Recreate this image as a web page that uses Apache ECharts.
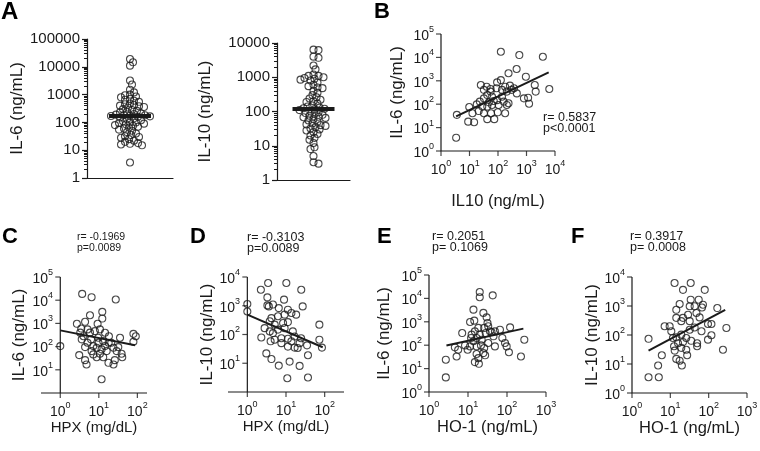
<!DOCTYPE html>
<html>
<head>
<meta charset="utf-8">
<script src="https://cdn.jsdelivr.net/npm/echarts@6/dist/echarts.min.js"></script>
<style>
  html, body { margin: 0; padding: 0; background: #fff; }
  #main { width: 760px; height: 451px; }
</style>
</head>
<body>
<div id="main"></div>
<script>
  // A: single-group distributions (ng/mL)
  const il6Dist = [19000, 14500, 11000, 3200, 2300, 1500, 1200, 1000, 950, 850, 800, 700, 650, 600, 550, 480, 450, 420, 400, 380, 360, 340, 300, 280, 260, 240, 230, 210, 200, 190, 185, 180, 175, 170, 165, 160, 150, 140, 130, 120, 110, 100, 100, 95, 90, 85, 80, 75, 70, 65, 60, 55, 50, 45, 40, 35, 32, 30, 28, 25, 22, 20, 18, 17, 16, 15, 3.6]
  const il10Dist = [6400, 6200, 4000, 3700, 2200, 1700, 1200, 1100, 1100, 1000, 950, 900, 850, 800, 700, 600, 550, 500, 480, 400, 350, 300, 260, 240, 220, 200, 190, 170, 150, 140, 130, 125, 120, 115, 110, 100, 95, 90, 85, 80, 75, 70, 68, 65, 60, 55, 50, 45, 42, 40, 38, 35, 32, 30, 28, 25, 22, 20, 17, 15, 12, 9, 8, 5, 3.3, 3.0]

  // B: IL10 vs IL-6
  const bIl10 = [126, 560, 3750, 6300, 3.4, 9, 14.5, 450, 234, 950, 1950, 2100, 1140, 810, 1230, 3.6, 9.8, 18, 12.7, 21, 25, 32, 40, 93, 126, 89, 138, 263, 363, 457, 204, 55, 42, 32, 62, 93, 138, 204, 234, 158, 105, 62, 42, 28, 32, 42, 74, 57, 98, 178, 48, 71, 23, 55, 178, 302]
  const bIl6 = [17400, 12600, 10700, 445, 3.7, 18, 17, 3200, 2100, 1500, 660, 345, 190, 178, 105, 35, 76, 98, 41, 51, 660, 410, 560, 860, 1070, 480, 410, 620, 480, 290, 345, 345, 246, 178, 208, 149, 208, 93, 110, 129, 93, 93, 79, 79, 41, 23, 23, 41, 45, 41, 120, 138, 129, 447, 560, 410]
  const bFit = [[3.4, 30], [6000, 2300]]
  const bStats = ['r= 0.5837', 'p<0.0001']

  // C: HPX vs IL-6
  const cHpx = [1.0, 3.7, 6.5, 27.5, 5.9, 12.3, 12.3, 2.7, 4.4, 9.3, 3.5, 5.1, 7.9, 10.7, 14.5, 18.3, 4.0, 6.3, 9.7, 13, 21, 3.6, 4.4, 7.2, 8.8, 11.8, 16, 24, 35.5, 32, 39, 40.5, 26, 24, 17.8, 13, 10.7, 8.8, 7.2, 3.1, 4.4, 4.8, 11.8, 79, 91, 79, 3.3, 5.9, 18, 29, 9.8, 6.5, 14.5, 5.1]
  const cIl6 = [105, 18700, 13500, 10700, 2250, 3150, 1620, 960, 1170, 960, 600, 550, 465, 550, 395, 280, 280, 205, 240, 172, 147, 205, 95, 105, 89, 76, 64, 89, 240, 95, 49, 35, 26, 17, 20, 35, 49, 35, 46, 43, 26, 17, 3.9, 162, 280, 355, 400, 400, 147, 64, 147, 64, 105, 147]
  const cFit = [[1, 500], [87, 115]]
  const cStats = ['r= -0.1969', 'p=0.0089']

  // D: HPX vs IL-10
  const dHpx = [1, 1, 3.45, 10.2, 2.24, 24.8, 3.3, 3.3, 3.6, 8.9, 4.6, 6.5, 11.2, 13.8, 27, 18.3, 9.2, 6.2, 4.2, 3.8, 5.1, 8.4, 11.2, 2.8, 3.8, 6.2, 9.2, 15, 16.7, 11.2, 7.6, 5.1, 4.0, 2.3, 11.2, 16.7, 20, 22.5, 35, 37, 3.1, 4.2, 6.5, 12.4, 22.5, 10.8, 37, 73, 73, 85, 7.6, 13.8, 24.6, 4.6]
  const dIl10 = [1150, 630, 6200, 6200, 3600, 3600, 1950, 1030, 950, 1630, 1100, 830, 730, 560, 950, 490, 490, 430, 370, 290, 220, 250, 270, 166, 128, 148, 166, 128, 85, 71, 74, 66, 58, 79, 38, 35, 34, 50, 42, 19, 22, 14, 8.3, 11.4, 8.1, 3.0, 3.2, 220, 66, 35, 50, 58, 74, 112]
  const dFit = [[1, 490], [89, 36]]
  const dStats = ['r= -0.3103', 'p=0.0089']

  // E: HO-1 vs IL-6
  const eHo1 = [2.7, 2.7, 5.1, 5.6, 7.1, 4.6, 8.4, 11.3, 12.4, 11.3, 14.5, 13.8, 20, 20, 43, 24.8, 30, 31.6, 26, 18.4, 15, 20, 28.5, 36.5, 49, 66, 120, 45, 76, 89, 98, 112, 278, 228, 49, 33, 22.4, 16.6, 13.8, 16.6, 21.5, 26, 24.8, 16.6, 18.4, 15, 19, 27.5, 9.8, 33, 40, 12]
  const eIl6 = [4.2, 24, 33, 64, 330, 81, 98, 89, 283, 980, 1120, 3300, 18700, 11200, 13500, 2400, 1550, 890, 550, 550, 390, 283, 330, 390, 390, 460, 580, 240, 204, 124, 89, 50, 172, 33, 89, 124, 172, 204, 147, 89, 98, 76, 46, 42, 28, 19, 16, 37, 64, 650, 365, 204]
  const eFit = [[2.8, 98], [263, 510]]
  const eStats = ['r= 0.2051', 'p= 0.1069']

  // F: HO-1 vs IL-10
  const fHo1 = [2.7, 5.0, 4.8, 6.0, 2.7, 7.1, 9.6, 12.9, 34, 21.4, 79, 34, 55, 17.5, 32, 43, 71, 67, 168, 48, 29, 14.3, 14.3, 21.4, 32, 19.3, 65, 118, 96, 290, 118, 96, 236, 50, 50, 35, 26, 19.3, 14.3, 11.7, 12.5, 15.9, 21.4, 19.3, 26, 13, 14.3, 17.5, 20, 27.5, 10.6, 32, 43, 58]
  const fIl10 = [3.5, 3.5, 8.9, 20, 74, 200, 200, 6200, 6200, 3600, 3600, 1650, 1650, 1170, 980, 980, 1110, 890, 850, 575, 500, 740, 390, 390, 300, 300, 135, 240, 240, 175, 98, 69, 31, 41, 52, 63, 79, 103, 83, 79, 41, 52, 57, 36, 31, 29, 15, 13, 8.9, 20, 135, 152, 182, 405]
  const fFit = [[2.7, 29], [270, 740]]
  const fStats = ['r= 0.3917', 'p= 0.0008']

  const FONT = '"Liberation Sans", Arial, sans-serif'
  const INK = '#1a1a1a'
  const lg = Math.log10

  const pts = (xs, ys) => xs.map((x, i) => [lg(x), lg(ys[i])])
  const range = (a, b) => Array.from({ length: b - a + 1 }, (_, i) => a + i)

  const median = (arr) => {
    const s = arr.slice().sort((a, b) => a - b)
    const m = s.length >> 1
    return s.length % 2 ? s[m] : (s[m - 1] + s[m]) / 2
  }

  // simple beeswarm: x offsets in pixels, y in log units
  function swarm(vals, pxPerUnit, d) {
    const order = vals.map((v, i) => i).sort((a, b) => vals[b] - vals[a])
    const placed = []
    const out = []
    order.forEach((i) => {
      const y = lg(vals[i]) * pxPerUnit
      let x = 0
      for (let k = 0; k < 200; k++) {
        const c = (k % 2 ? 1 : -1) * Math.ceil(k / 2)
        if (placed.every((p) => (p[0] - c) ** 2 + (p[1] - y) ** 2 >= d * d)) {
          x = c
          break
        }
      }
      placed.push([x, y])
      out.push([x, lg(vals[i])])
    })
    return out
  }

  const lineStyle = { color: INK, width: 1.2 }
  const isInt = (v) => Math.abs(v - Math.round(v)) < 1e-6

  // 10^n labels on whole decades only; skip the ones listed in hide
  function powLabel(margin, hide) {
    const ok = (v) => isInt(v) && !(hide || []).includes(Math.round(v))
    return {
      margin,
      formatter: (v) => (ok(v) ? '{b|10}{s|' + Math.round(v) + '}' : ''),
      rich: {
        b: { fontSize: 14, lineHeight: 18, verticalAlign: 'bottom', color: INK, fontFamily: FONT },
        s: { fontSize: 9, lineHeight: 18, verticalAlign: 'top', color: INK, fontFamily: FONT },
      },
    }
  }

  // label/name axes; the frame (line + ticks) is drawn by addFrame below
  function yLog(grid, max, hide, name, gap, offset) {
    return {
      type: 'value', gridIndex: grid, position: 'left', min: 0, max, interval: 1, offset: offset || 0,
      axisLine: { show: false, onZero: false },
      axisTick: { show: false },
      axisLabel: powLabel(7, hide),
      splitLine: { show: false },
      name, nameLocation: 'middle', nameGap: gap, nameRotate: 90,
      nameTextStyle: { fontSize: 17, color: INK, fontFamily: FONT },
    }
  }

  function xLog(grid, min, max, name, gap, nameSize) {
    return {
      type: 'value', gridIndex: grid, position: 'bottom', min, max, interval: min < 0 ? 0.5 : 1,
      axisLine: { show: false, onZero: false },
      axisTick: { show: false },
      axisLabel: powLabel(8),
      splitLine: { show: false },
      name, nameLocation: 'middle', nameGap: gap,
      nameTextStyle: { fontSize: nameSize, color: INK, fontFamily: FONT },
    }
  }

  function yDist(grid, max, name, gap) {
    return {
      type: 'value', gridIndex: grid, min: 0, max, interval: 1,
      axisLine: { show: true, onZero: false, lineStyle },
      axisTick: { show: true, length: 5, lineStyle },
      axisLabel: { margin: 7, fontSize: 15, color: INK, fontFamily: FONT, formatter: (v) => String(Math.round(Math.pow(10, v))) },
      splitLine: { show: false },
      name, nameLocation: 'middle', nameGap: gap, nameRotate: 90,
      nameTextStyle: { fontSize: 17, color: INK, fontFamily: FONT },
    }
  }

  function yMinor(grid, max) {
    const vals = []
    for (let n = 0; n < max; n++) for (let k = 2; k <= 9; k++) vals.push(n + lg(k))
    return {
      type: 'value', gridIndex: grid, min: 0, max, position: 'left',
      axisLine: { show: false, onZero: false },
      axisTick: { show: true, customValues: vals, length: 3, lineStyle: { color: INK, width: 1 } },
      axisLabel: { show: false },
      splitLine: { show: false },
    }
  }

  const xDist = (grid, half) => ({
    type: 'value', gridIndex: grid, min: -half, max: half,
    axisLine: { show: true, onZero: false, lineStyle },
    axisTick: { show: false }, axisLabel: { show: false }, splitLine: { show: false },
  })

  const grids = [
    { left: 87, top: 39, width: 86, height: 139 },
    { left: 277, top: 43, width: 73, height: 137 },
    { left: 441, top: 34, width: 114, height: 117 },
    { left: 41, top: 277, width: 106, height: 116 },
    { left: 228, top: 277, width: 116, height: 115 },
    { left: 429, top: 275, width: 117, height: 117 },
    { left: 632, top: 277, width: 115, height: 116 },
  ].map((g) => Object.assign({ outerBoundsMode: 'none', containLabel: false }, g))

  const xAxes = [
    xDist(0, 43),
    xDist(1, 36.5),
    xLog(2, 0, 4, 'IL10 (ng/mL)', 42, 16.5),
    xLog(3, -0.5, 2.25, 'HPX (mg/dL)', 24, 15),
    xLog(4, -0.5, 2.5, 'HPX (mg/dL)', 24, 15),
    xLog(5, 0, 3, 'HO-1 (ng/mL)', 15, 16.5),
    xLog(6, 0, 3, 'HO-1 (ng/mL)', 15, 16.5),
  ]

  // C and D: the y axis sits at 10^0 of x, inside the grid
  const yAxes = [
    yDist(0, 5, 'IL-6 (ng/mL)', 48),
    yDist(1, 4, 'IL-10 (ng/mL)', 63),
    yLog(2, 5, [], 'IL-6 (ng/mL)', 35),
    yLog(3, 5, [0], 'IL-6 (ng/mL)', 32, -19),
    yLog(4, 4, [0], 'IL-10 (ng/mL)', 31, -19),
    yLog(5, 5, [], 'IL-6 (ng/mL)', 36),
    yLog(6, 4, [], 'IL-10 (ng/mL)', 31),
    yMinor(0, 5),
    yMinor(1, 4),
  ]

  const dot = {
    type: 'scatter', symbol: 'circle', symbolSize: 7, silent: true,
    itemStyle: { color: 'rgba(255,255,255,0)', borderColor: INK, borderWidth: 1.1 },
  }
  const fitLine = { type: 'line', symbol: 'none', silent: true, lineStyle: { color: INK, width: 2 }, z: 3 }

  const series = []
  function addDist(grid, vals, pxPerUnit) {
    series.push(Object.assign({}, dot, { xAxisIndex: grid, yAxisIndex: grid, data: swarm(vals, pxPerUnit, 4.3) }))
    const m = lg(median(vals))
    series.push(Object.assign({}, fitLine, {
      xAxisIndex: grid, yAxisIndex: grid, lineStyle: { color: INK, width: 4 }, data: [[-21, m], [21, m]],
    }))
  }
  function addScatter(grid, xs, ys, fit) {
    series.push(Object.assign({}, dot, { xAxisIndex: grid, yAxisIndex: grid, data: pts(xs, ys) }))
    series.push(Object.assign({}, fitLine, { xAxisIndex: grid, yAxisIndex: grid, data: fit.map((p) => [lg(p[0]), lg(p[1])]) }))
  }
  // axis frame: y line at 10^0 of x, x line along 10^0 of y, outward ticks on decades
  function addFrame(grid, xMin, xMax, yMax, xTicks, yTicks) {
    const base = { xAxisIndex: grid, yAxisIndex: grid, silent: true, clip: false, z: 1 }
    series.push(Object.assign({}, base, {
      type: 'line', symbol: 'none', lineStyle: { color: INK, width: 1.2 },
      data: [[0, yMax], [0, 0], [xMin, 0], [xMax, 0]],
    }))
    series.push(Object.assign({}, base, {
      type: 'scatter', symbol: 'rect', symbolSize: [5, 1.2], symbolOffset: [-2.5, 0],
      itemStyle: { color: INK }, data: yTicks.map((v) => [0, v]),
    }))
    series.push(Object.assign({}, base, {
      type: 'scatter', symbol: 'rect', symbolSize: [1.2, 5], symbolOffset: [0, 2.5],
      itemStyle: { color: INK }, data: xTicks.map((v) => [v, 0]),
    }))
  }

  addDist(0, il6Dist, 139 / 5)
  addDist(1, il10Dist, 137 / 4)
  addScatter(2, bIl10, bIl6, bFit)
  addScatter(3, cHpx, cIl6, cFit)
  addScatter(4, dHpx, dIl10, dFit)
  addScatter(5, eHo1, eIl6, eFit)
  addScatter(6, fHo1, fIl10, fFit)
  addFrame(2, 0, 4, 5, range(0, 4), range(0, 5))
  addFrame(3, -0.5, 2.25, 5, range(0, 2), range(1, 5))
  addFrame(4, -0.5, 2.5, 4, range(0, 2), range(1, 4))
  addFrame(5, 0, 3, 5, range(0, 3), range(0, 5))
  addFrame(6, 0, 3, 4, range(0, 3), range(0, 4))

  const graphic = []
  ;[['A', 1, 12, 24], ['B', 374, 12, 22], ['C', 2, 237, 22], ['D', 190, 237, 22], ['E', 377, 237, 22], ['F', 571, 237, 22]].forEach(([t, x, y, s]) => {
    graphic.push({ type: 'text', left: x, top: y - s / 2, style: { text: t, font: 'bold ' + s + 'px ' + FONT, fill: '#000' } })
  })
  ;[[bStats, 543, 117, 12.5], [cStats, 77, 237, 10.5], [dStats, 247, 237, 12.5], [eStats, 432, 236, 12.5], [fStats, 630, 236, 12.5]].forEach(([lines, x, y, s]) => {
    lines.forEach((t, i) => {
      graphic.push({ type: 'text', left: x, top: y + i * 11 - s / 2, style: { text: t, font: s + 'px ' + FONT, fill: INK } })
    })
  })

  const chart = echarts.init(document.getElementById('main'))
  chart.setOption({
    animation: false,
    backgroundColor: '#fff',
    grid: grids,
    xAxis: xAxes,
    yAxis: yAxes,
    series,
    graphic,
  })
</script>
</body>
</html>
